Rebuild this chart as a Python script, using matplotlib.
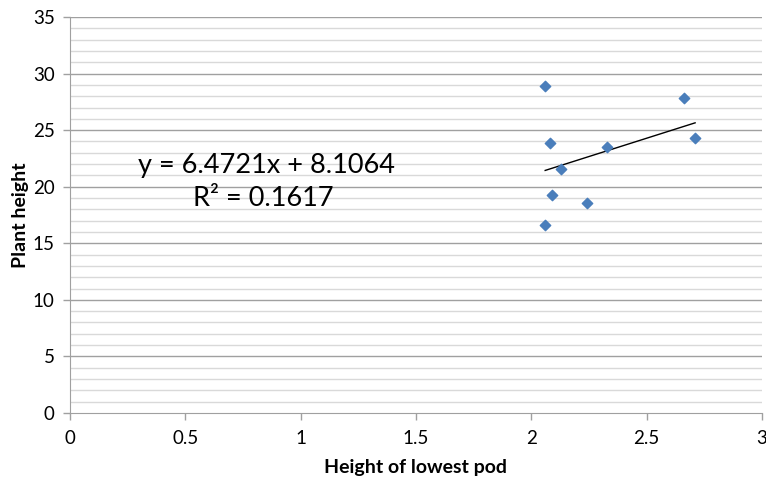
import matplotlib.pyplot as plt
import numpy as np

# Data
pod_height = [2.06, 2.08, 2.13, 2.09, 2.24, 2.06, 2.33, 2.66, 2.71]
plant_height = [28.9, 23.9, 21.6, 19.3, 18.6, 16.6, 23.5, 27.8, 24.3]

# Trendline shown on the chart
slope = 6.4721
intercept = 8.1064
r_squared = 0.1617

plt.rcParams['font.family'] = ['Lato', 'DejaVu Sans']

W, H = 766, 482
fig = plt.figure(figsize=(W / 100, H / 100), dpi=100)
ax = fig.add_axes([70 / W, 69 / H, 692 / W, 396 / H])

# Gridlines: light minor every 1, darker major every 5
for v in np.arange(1, 35):
    if v % 5:
        ax.axhline(v, color='#d9d9d9', lw=1.0, zorder=0)
for v in np.arange(5, 40, 5):
    ax.axhline(v, color='#a0a0a0', lw=1.0, zorder=0)

ax.scatter(pod_height, plant_height, marker='D', s=28, color='#4a7ebb',
           edgecolor='#4a7ebb', zorder=3)

xs = np.array([min(pod_height), max(pod_height)])
ax.plot(xs, slope * xs + intercept, color='black', lw=1.0, zorder=2)

fig.text(266 / W, 1 - 165 / H, f'y = {slope}x + {intercept}', fontsize=19.5,
         ha='center', va='center')
fig.text(263 / W, 1 - 199 / H, f'R² = {r_squared}', fontsize=19.5,
         ha='center', va='center')

ax.set_xlim(0, 3)
ax.set_ylim(0, 35)
ax.set_xticks(np.arange(0, 3.01, 0.5))
ax.set_xticklabels(['0', '0.5', '1', '1.5', '2', '2.5', '3'])
ax.set_yticks(np.arange(0, 36, 5))

for side in ['top', 'right']:
    ax.spines[side].set_visible(False)
for side in ['left', 'bottom']:
    ax.spines[side].set_color('#a0a0a0')
ax.tick_params(axis='both', colors='#a0a0a0', labelcolor='black', labelsize=13.5,
               length=5, width=1)
ax.tick_params(axis='x', pad=7)
ax.tick_params(axis='y', pad=6)

ax.set_xlabel('Height of lowest pod', fontsize=14, fontweight='bold', labelpad=9)
ax.set_ylabel('Plant height', fontsize=14, fontweight='bold', labelpad=3)

fig.savefig('out.png', dpi=100)
